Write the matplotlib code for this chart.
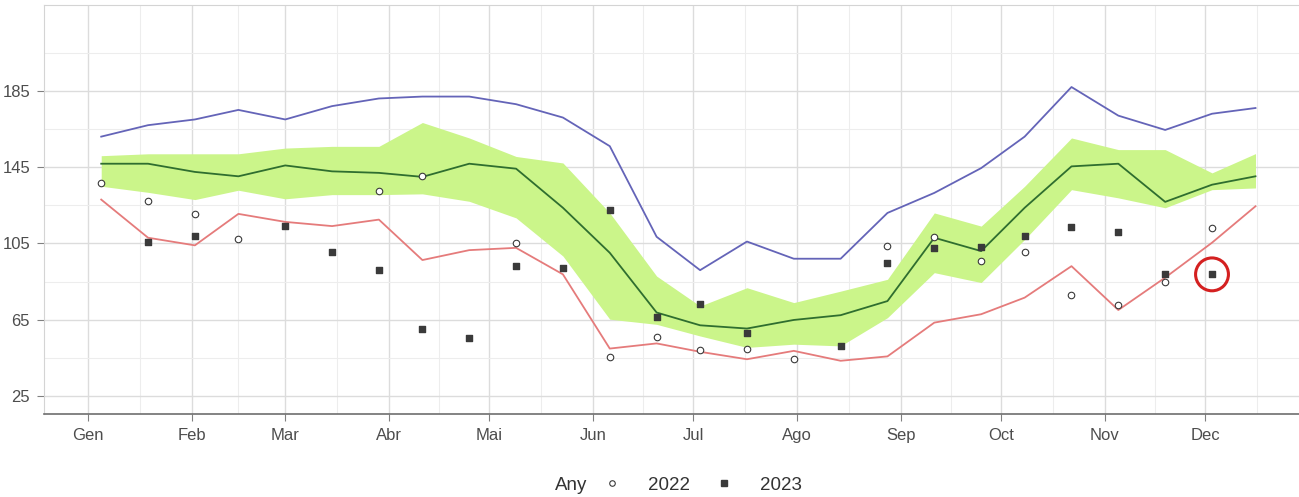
import numpy as np
import matplotlib
matplotlib.use('Agg')
import matplotlib.pyplot as plt
from matplotlib.lines import Line2D

plt.rcParams['font.family'] = ['Liberation Sans', 'DejaVu Sans']

# day of year of each fortnightly sample
days = [4, 18, 32, 45, 59, 73, 87, 100, 114, 128, 142, 156, 170,
        183, 197, 211, 225, 239, 253, 267, 280, 294, 308, 322, 336, 349]

# historical max / min / median and interquartile band
serie_max = [161, 167, 170, 175, 170, 177, 181, 182, 182, 178, 171, 156, 108.5,
             91, 106, 97, 97, 121, 131.5, 144.5, 161, 187, 172, 164.5, 173, 176]
serie_min = [128, 108, 104, 120.5, 116.3, 114.1, 117.5, 96.3, 101.5, 102.7, 88.8, 49.9, 52.6,
             48.2, 44.3, 48.7, 43.5, 45.8, 63.5, 67.9, 76.6, 93.1, 70.1, 87.1, 105.4, 124.5]
serie_med = [146.8, 146.8, 142.5, 140.2, 145.9, 142.8, 142, 139.9, 146.8, 144.2, 123.7, 100.1, 68.8,
             62.1, 60.4, 64.9, 67.4, 74.8, 108, 101, 123.7, 145.4, 146.8, 126.8, 135.8, 140.2]
band_high = [151, 152, 152, 152, 155, 155.9, 155.9, 168.4, 160.3, 150.6, 147.2, 121, 87.9,
             72.2, 81.8, 74, 80, 86.2, 121, 114.1, 135, 160.3, 154.2, 154.2, 142, 152.1]
band_low = [135, 131.8, 128, 132.9, 128.4, 130.6, 130.6, 131, 127.1, 118.4, 98.4, 65.3, 62.6,
            56.5, 50.5, 52.2, 51.3, 66.1, 89.7, 84.5, 107.1, 133.2, 128.9, 123.7, 133.2, 134.1]

nan = np.nan
any_2022 = [136.7, 127.5, 120.5, 107.5, nan, nan, 132.7, 140.2, nan, 105, nan, 45.6, 56,
            49, 49.6, 44.3, nan, 103.6, 108.5, 95.7, 100.7, 78, 72.6, 84.8, 113.2, nan]
any_2023 = [nan, 105.9, 108.8, nan, 114.4, 100.7, 91, 60, 55.7, 93.1, 92.3, 122.8, 66.7,
            73.1, 58.3, nan, 51.3, 94.9, 102.7, 103.3, 108.8, 113.7, 110.9, 88.8, 88.8, nan]

month_start = [0, 31, 59, 90, 120, 151, 181, 212, 243, 273, 304, 334, 365]
month_labels = ['Gen', 'Feb', 'Mar', 'Abr', 'Mai', 'Jun', 'Jul', 'Ago', 'Sep', 'Oct', 'Nov', 'Dec']
y_ticks = [25, 65, 105, 145, 185]
y_minor = [45, 85, 125, 165, 205]

W, H = 1299, 497
fig = plt.figure(figsize=(W / 100, H / 100), dpi=100)
ax = fig.add_axes((44 / W, (H - 414) / H, (W - 44) / W, (414 - 5) / H))

ax.set_xlim(-13.1, 362)
ax.set_ylim(15.6, 230)

# grid
major_x = month_start[:-1]
minor_x = [(a + b) / 2 for a, b in zip(month_start[:-1], month_start[1:])]
ax.set_xticks(major_x)
ax.set_xticklabels(month_labels)
ax.set_xticks(minor_x, minor=True)
ax.set_yticks(y_ticks)
ax.set_yticks(y_minor, minor=True)
ax.grid(which='major', color='#dcdcdc', linewidth=1.0, zorder=0)
ax.grid(which='minor', color='#ededed', linewidth=0.8, zorder=0)
ax.set_axisbelow(True)

ax.spines['right'].set_visible(False)
ax.spines['top'].set_color('#d4d4d4')
ax.spines['left'].set_color('#d4d4d4')
ax.spines['bottom'].set_color('#6e6e6e')
ax.spines['bottom'].set_linewidth(1.2)
ax.tick_params(which='major', length=5, color='#808080', labelsize=12,
               labelcolor='#4d4d4d', pad=5)
ax.tick_params(which='minor', length=0)

# band + lines
ax.fill_between(days, band_low, band_high, color='#cbf58a', linewidth=0, zorder=1)
ax.plot(days, serie_max, color='#6464b8', linewidth=1.3, zorder=2)
ax.plot(days, serie_min, color='#e57b7b', linewidth=1.3, zorder=2)
ax.plot(days, serie_med, color='#2f6e2f', linewidth=1.3, zorder=2)

# yearly points
ax.scatter(days, any_2022, marker='o', s=22, facecolors='white',
           edgecolors='#3a3a3a', linewidths=0.8, zorder=3)
ax.scatter(days, any_2023, marker='s', s=25, color='#3a3a3a', zorder=3)

# highlight last 2023 value
last = max(i for i, v in enumerate(any_2023) if not np.isnan(v))
ax.scatter([days[last]], [any_2023[last]], marker='o', s=560, facecolors='none',
           edgecolors='#d42020', linewidths=2.2, zorder=4)

# legend
fig.text(571 / W, 1 - 485 / H, 'Any', ha='center', va='center',
         fontsize=13.5, color='#333333')
handles = [Line2D([], [], marker='o', linestyle='none', markersize=4,
                  markerfacecolor='white', markeredgecolor='#3a3a3a', markeredgewidth=0.8),
           Line2D([], [], marker='s', linestyle='none', markersize=4.5,
                  color='#3a3a3a')]
fig.legend(handles, ['2022', '2023'], loc='center', ncol=2,
           bbox_to_anchor=(702 / W, 1 - 485 / H), frameon=False, fontsize=13.5,
           handlelength=1.0, handletextpad=1.42, columnspacing=1.31,
           labelcolor='#333333')

fig.savefig('out.png', dpi=100)
